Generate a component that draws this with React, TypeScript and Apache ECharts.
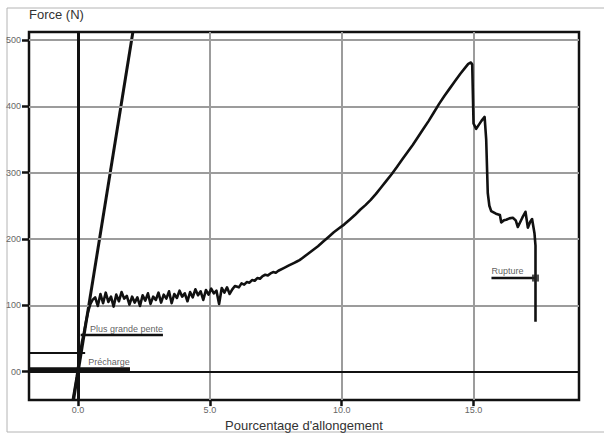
import React, { useEffect, useRef } from "react";
import * as echarts from "echarts";

// Axes
const xTicks = [0, 5, 10, 15];
const yTicks = [0, 100, 200, 300, 400, 500];
const xMin = -1.86;
const xMax = 19.0;
const yMin = -43;
const yMax = 512;

// Test curve: loading phase
const loadStrain = [-0.2, -0.05, 0.05, 0.15, 0.22, 0.3, 0.38, 0.47];
const loadForce = [-43, -8, 20, 45, 58, 75, 90, 102];

// Plateau (noisy)
const plateauStrain = [
  0.55, 0.65, 0.75, 0.85, 0.95, 1.05, 1.15, 1.25, 1.35, 1.45, 1.55, 1.65, 1.75, 1.85,
  1.95, 2.05, 2.15, 2.25, 2.35, 2.45, 2.55, 2.65, 2.75, 2.85, 2.95, 3.05, 3.15, 3.25,
  3.35, 3.45, 3.55, 3.65, 3.75, 3.85, 3.95, 4.05, 4.15, 4.25, 4.35, 4.45, 4.55, 4.65,
  4.75, 4.85, 4.95, 5.05, 5.15, 5.25, 5.35, 5.45, 5.55, 5.65, 5.75, 5.85, 5.95,
];
const plateauForce = [
  108, 112, 99, 117, 103, 119, 105, 113, 98, 116, 106, 120, 110, 114,
  101, 113, 104, 112, 99, 115, 107, 118, 102, 113, 108, 119, 104, 116,
  110, 121, 103, 117, 111, 122, 113, 118, 106, 120, 112, 124, 115, 121,
  108, 123, 116, 125, 118, 122, 102, 126, 119, 127, 117, 124, 129,
];

// Hardening
const hardStrain = [
  6.1, 6.2, 6.3, 6.4, 6.5, 6.6, 6.7, 6.8, 6.9, 7.0, 7.1, 7.2, 7.3, 7.4, 7.5, 7.6,
  7.8, 8.0, 8.2, 8.3, 8.4, 8.5, 8.7, 8.9, 9.1, 9.3, 9.5, 9.7, 9.9, 10.1, 10.3, 10.5,
  10.7, 10.9, 11.1, 11.3, 11.5, 11.7, 11.9, 12.1, 12.3, 12.5, 12.7, 12.9, 13.1, 13.3,
  13.5, 13.7, 13.9, 14.1, 14.3, 14.5, 14.7, 14.8, 14.9,
];
const hardForce = [
  127, 133, 131, 135, 134, 138, 137, 141, 140, 144, 146, 145, 148, 150, 149, 152,
  156, 160, 164, 166, 168, 171, 177, 183, 189, 196, 203, 210, 216, 222, 229, 236,
  244, 251, 259, 268, 278, 288, 298, 309, 320, 331, 342, 354, 366, 378,
  391, 404, 416, 427, 438, 449, 459, 464, 466,
];

// Failure
const failStrain = [
  14.95, 15.0, 15.1, 15.2, 15.3, 15.42, 15.48, 15.54, 15.6, 15.67, 15.85, 16.0, 16.05,
  16.15, 16.24, 16.36, 16.49, 16.6, 16.68, 16.85, 16.97, 17.06, 17.15, 17.22, 17.31, 17.35, 17.35,
];
const failForce = [
  463, 374, 366, 372, 378, 384, 350, 269, 250, 242, 238, 236, 225,
  228, 229, 231, 232, 228, 218, 232, 241, 217, 226, 230, 209, 190, 75,
];

// Steepest slope line
const tangentStrain = [-0.17, 2.08];
const tangentForce = [-43, 512];

// Annotation segments
const slopeMarkStrain = [0.1, 3.22];
const slopeMarkForce = 55;
const preloadStrain = [xMin, 1.97];
const preloadForce = 3.5;
const preloadRefStrain = [xMin, 0.27];
const preloadRefForce = 28;
const ruptureStrain = [15.68, 17.35];
const ruptureForce = 141;

const annotationLabels = [
  { text: "Plus grande pente", x: 0.45, y: 64 },
  { text: "Précharge", x: 0.39, y: 14 },
  { text: "Rupture", x: 15.68, y: 152 },
];

const zip = (xs: number[], ys: number[]) => xs.map((x, i) => [x, ys[i]]);
const seg = (xs: number[], y: number) => xs.map((x) => [x, y]);

const curve = [
  ...zip(loadStrain, loadForce),
  ...zip(plateauStrain, plateauForce),
  ...zip(hardStrain, hardForce),
  ...zip(failStrain, failForce),
];

const FONT = "Liberation Sans, Arial, sans-serif";

export default function App() {
  const ref = useRef<HTMLDivElement>(null);
  useEffect(() => {
    const chart = echarts.init(ref.current!, null, { renderer: "svg" });
    const lineBase = {
      type: "line" as const,
      showSymbol: false,
      symbol: "none",
      silent: true,
      animation: false,
    };
    chart.setOption({
      animation: false,
      backgroundColor: "#fff",
      textStyle: { fontFamily: FONT },
      graphic: [
        {
          type: "rect",
          silent: true,
          shape: { x: 7, y: 8, width: 640, height: 424 },
          style: { fill: "none", stroke: "#b4b4b4", lineWidth: 1 },
        },
      ],
      grid: {
        left: 29,
        top: 32,
        right: 25,
        bottom: 35,
        show: true,
        borderColor: "#111",
        borderWidth: 2.5,
        backgroundColor: "transparent",
      },
      xAxis: {
        type: "value",
        min: xMin,
        max: xMax,
        name: "Pourcentage d'allongement",
        nameLocation: "middle",
        nameGap: 17,
        nameTextStyle: { fontSize: 13, color: "#333", fontFamily: FONT },
        axisLine: { show: false, onZero: false },
        splitLine: { show: false },
        axisTick: {
          show: true,
          customValues: xTicks,
          length: 6,
          lineStyle: { color: "#111", width: 2.5 },
        },
        axisLabel: {
          customValues: xTicks,
          formatter: (v: number) => v.toFixed(1),
          fontSize: 9,
          color: "#666",
          margin: 5,
        },
      },
      yAxis: {
        type: "value",
        min: yMin,
        max: yMax,
        name: "Force (N)",
        nameLocation: "end",
        nameGap: 11,
        nameTextStyle: { fontSize: 13, color: "#333", align: "left", fontFamily: FONT },
        axisLine: { show: false, onZero: false },
        splitLine: { show: false },
        axisTick: {
          show: true,
          customValues: yTicks,
          length: 7,
          lineStyle: { color: "#111", width: 2.5 },
        },
        axisLabel: {
          customValues: yTicks,
          formatter: (v: number) => (v === 0 ? "00" : String(v)),
          fontSize: 9,
          color: "#666",
          margin: 8,
        },
      },
      series: [
        {
          ...lineBase,
          name: "grid",
          z: 1,
          data: [],
          markLine: {
            silent: true,
            symbol: "none",
            animation: false,
            label: { show: false },
            lineStyle: { color: "#9c9c9c", width: 2, type: "solid" },
            data: [
              ...xTicks.filter((v) => v !== 0).map((v) => ({ xAxis: v })),
              ...yTicks.filter((v) => v !== 0).map((v) => ({ yAxis: v })),
            ],
          },
        },
        {
          ...lineBase,
          name: "axes0",
          z: 2,
          data: [],
          markLine: {
            silent: true,
            symbol: "none",
            animation: false,
            label: { show: false },
            lineStyle: { color: "#111", type: "solid" },
            data: [
              { xAxis: 0, lineStyle: { width: 3, color: "#111", type: "solid" } },
              { yAxis: 0, lineStyle: { width: 2, color: "#111", type: "solid" } },
            ],
          },
        },
        {
          ...lineBase,
          name: "preload",
          z: 3,
          data: seg(preloadStrain, preloadForce),
          lineStyle: { color: "#111", width: 4 },
        },
        {
          ...lineBase,
          name: "preloadRef",
          z: 3,
          data: seg(preloadRefStrain, preloadRefForce),
          lineStyle: { color: "#111", width: 2 },
        },
        {
          ...lineBase,
          name: "slopeMark",
          z: 3,
          data: seg(slopeMarkStrain, slopeMarkForce),
          lineStyle: { color: "#111", width: 2.5 },
        },
        {
          ...lineBase,
          name: "ruptureMark",
          z: 3,
          data: seg(ruptureStrain, ruptureForce),
          lineStyle: { color: "#111", width: 2.5 },
        },
        {
          ...lineBase,
          name: "tangent",
          z: 4,
          data: zip(tangentStrain, tangentForce),
          lineStyle: { color: "#111", width: 3 },
        },
        {
          ...lineBase,
          name: "curve",
          z: 5,
          data: curve,
          lineStyle: { color: "#111", width: 2.6, join: "round" },
        },
        {
          type: "scatter",
          name: "rupturePoint",
          z: 6,
          silent: true,
          symbol: "rect",
          symbolSize: 7,
          itemStyle: { color: "#222" },
          data: [[ruptureStrain[1], ruptureForce]],
        },
        {
          type: "scatter",
          name: "labels",
          z: 6,
          silent: true,
          symbolSize: 0,
          data: annotationLabels.map((a) => ({ value: [a.x, a.y], name: a.text })),
          label: {
            show: true,
            position: "right",
            distance: 0,
            formatter: (p: any) => p.name,
            fontSize: 9,
            color: "#333",
            fontFamily: FONT,
          },
        },
      ],
    });
    return () => chart.dispose();
  }, []);
  return (
    <div
      ref={ref}
      style={{ position: "fixed", left: 0, top: 0, width: 604, height: 437, background: "#fff" }}
    />
  );
}
